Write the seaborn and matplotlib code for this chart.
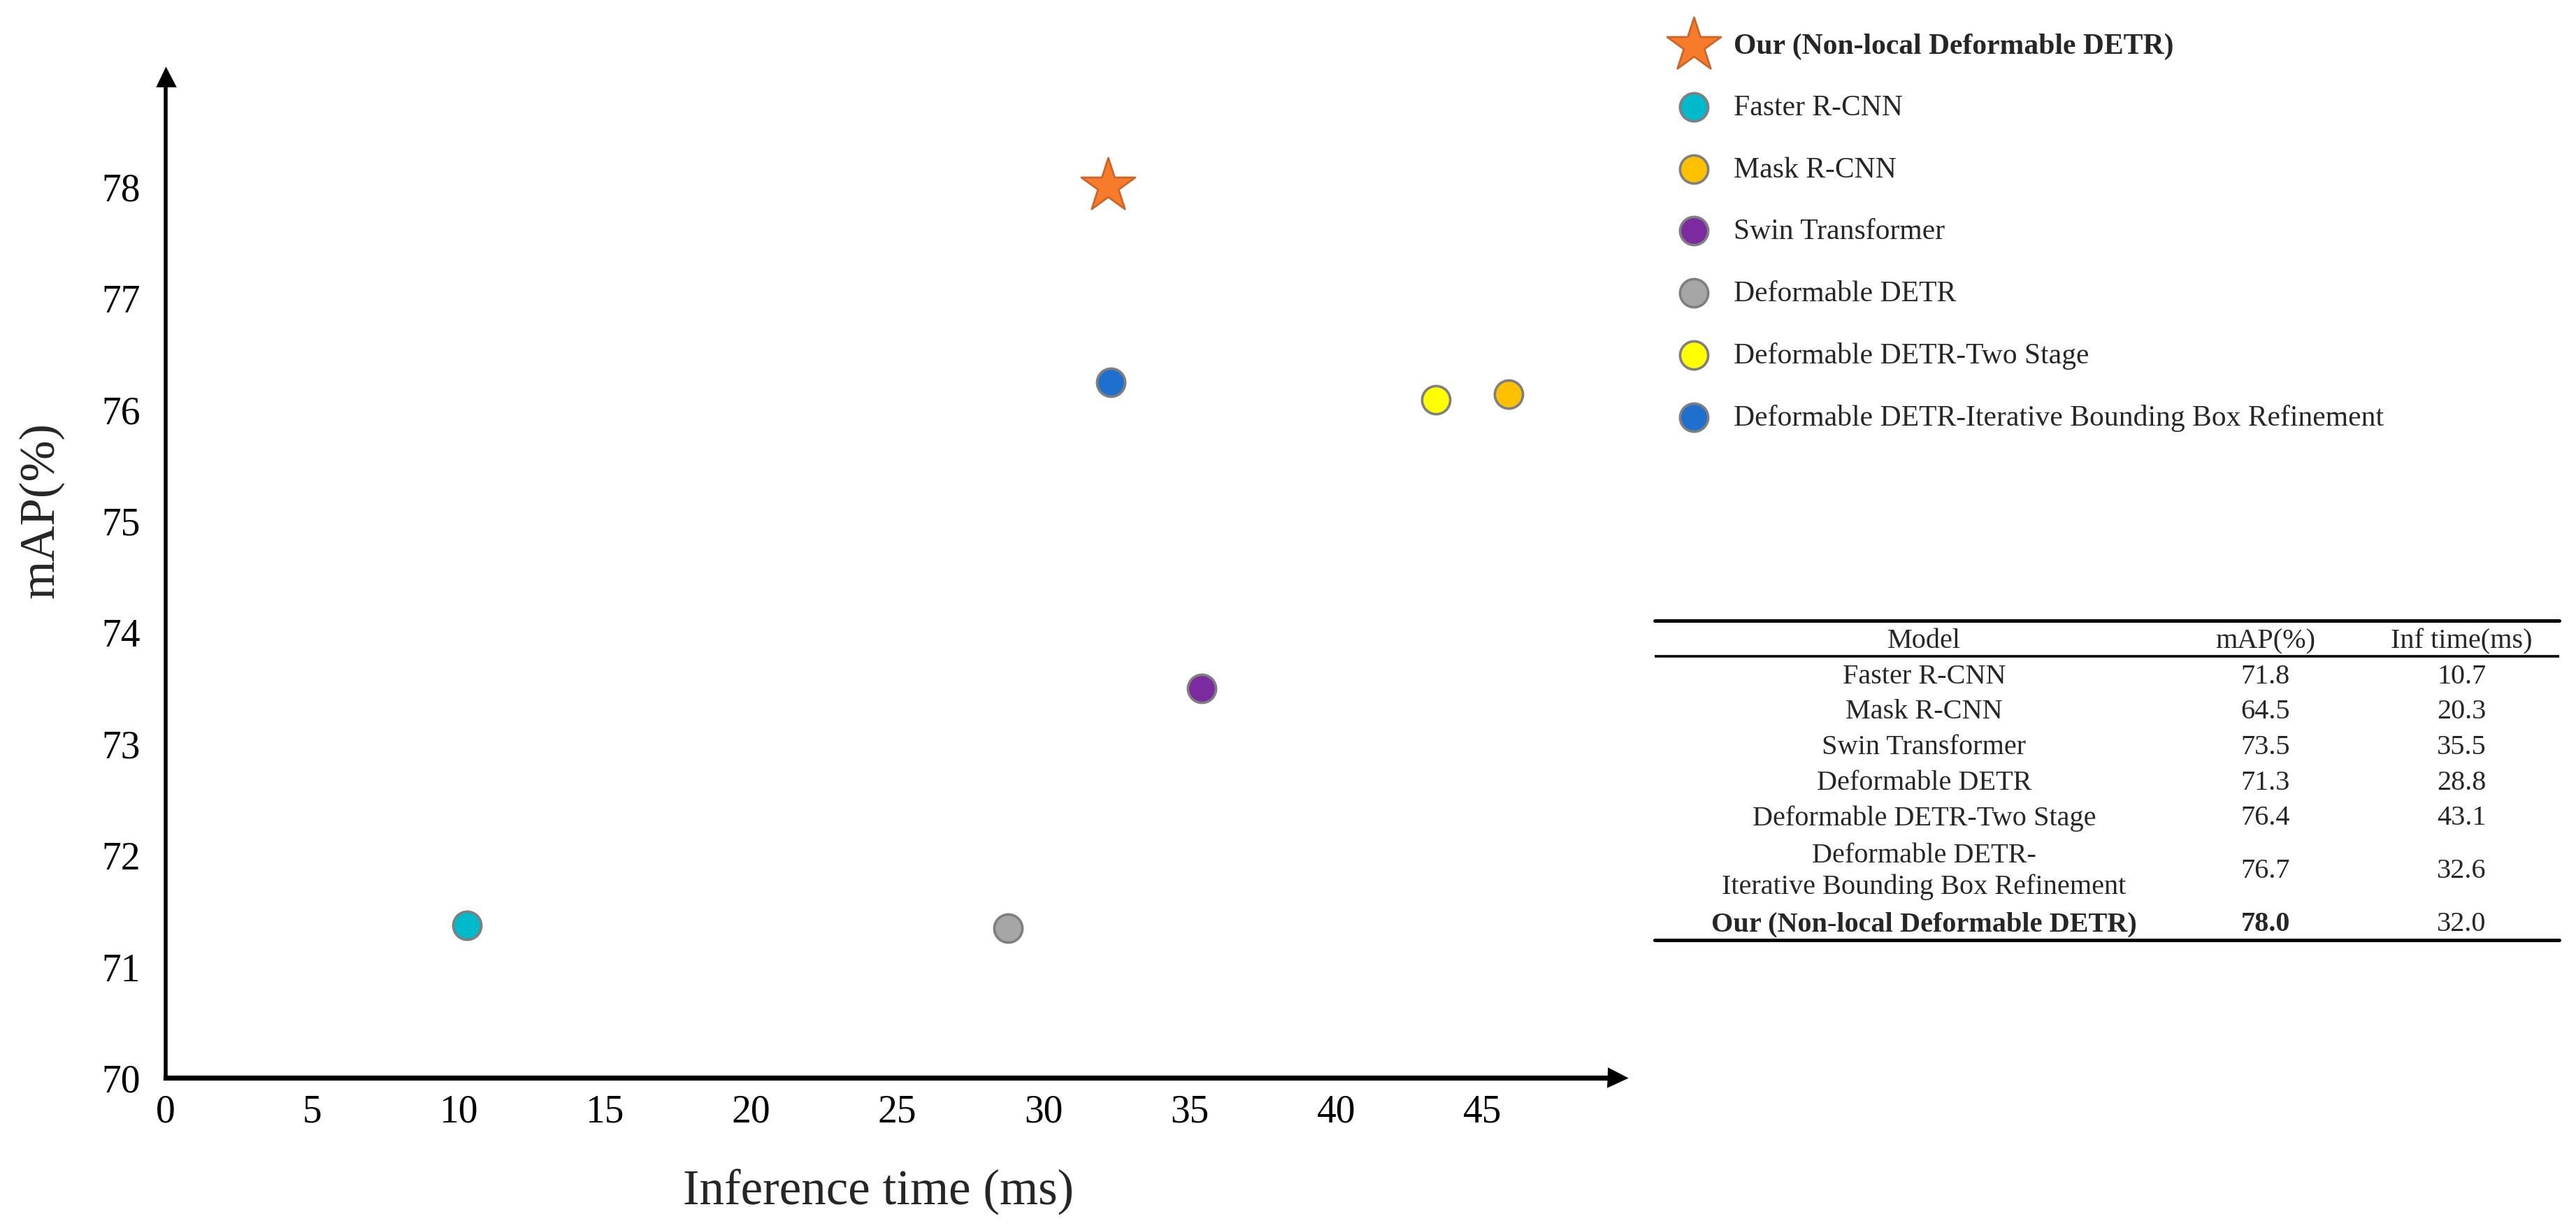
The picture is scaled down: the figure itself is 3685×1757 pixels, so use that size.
import matplotlib
matplotlib.use("Agg")
import matplotlib.pyplot as plt
import seaborn as sns

# scatter / legend order
models = ["Our (Non-local Deformable DETR)", "Faster R-CNN", "Mask R-CNN",
          "Swin Transformer", "Deformable DETR", "Deformable DETR-Two Stage",
          "Deformable DETR-Iterative Bounding Box Refinement"]
# positions as drawn in the plot
inf_time_plot = [32.2, 10.3, 45.9, 35.4, 28.8, 43.4, 32.3]
map_plot = [78.0, 71.37, 76.13, 73.49, 71.34, 76.08, 76.24]
colors = ["#F67C2C", "#00B9CB", "#FFC000", "#7B2AA0", "#A6A6A6", "#FFFF00", "#1F70CE"]

# table content
table_header = ["Model", "mAP(%)", "Inf time(ms)"]
table_models = ["Faster R-CNN", "Mask R-CNN", "Swin Transformer", "Deformable DETR",
                "Deformable DETR-Two Stage",
                "Deformable DETR-\nIterative Bounding Box Refinement",
                "Our (Non-local Deformable DETR)"]
table_map = [71.8, 64.5, 73.5, 71.3, 76.4, 76.7, 78.0]
table_inf = [10.7, 20.3, 35.5, 28.8, 43.1, 32.6, 32.0]

x_ticks = [0, 5, 10, 15, 20, 25, 30, 35, 40, 45]
y_ticks = [70, 71, 72, 73, 74, 75, 76, 77, 78]


if __name__ == '__main__':
    sns.set_theme(style="white")
    plt.rcParams['font.family'] = ['Liberation Serif', 'DejaVu Serif']

    fig = plt.figure(figsize=(18.425, 8.79), dpi=200)
    ax = fig.add_axes([0.0643, 0.1223, 0.5634, 0.8146])

    for i, name in enumerate(models):
        star = i == 0
        sns.scatterplot(x=[inf_time_plot[i]], y=[map_plot[i]], ax=ax,
                        color=colors[i], marker="*" if star else "o",
                        s=850 if star else 210,
                        edgecolor="#CF6428" if star else "#7F7F7F",
                        linewidth=1.0 if star else 1.3,
                        label=name, legend=False, zorder=3, clip_on=False)

    ax.set_xlim(0, 49.6)
    ax.set_ylim(70, 78.98)
    ax.set_xticks(x_ticks)
    ax.set_yticks(y_ticks)
    ax.tick_params(axis='both', direction='in', length=21.6, colors='black',
                   labelsize=20)
    ax.tick_params(axis='x', width=1.6, pad=8)
    ax.tick_params(axis='y', width=2.0, pad=13)

    for side in ['top', 'right']:
        ax.spines[side].set_visible(False)
    ax.spines['left'].set_linewidth(2.0)
    ax.spines['bottom'].set_linewidth(2.6)
    ax.spines['left'].set_color('black')
    ax.spines['bottom'].set_color('black')
    # axis arrows
    ax.plot(0, 1, "^", color="black", markersize=9, transform=ax.transAxes, clip_on=False)
    ax.plot(1, 0, ">", color="black", markersize=9, transform=ax.transAxes, clip_on=False)

    ax.set_xlabel("Inference time (ms)", fontsize=25.5)
    ax.set_ylabel("mAP(%)", fontsize=25.5)
    ax.xaxis.set_label_coords(0.491, -0.091)
    ax.yaxis.set_label_coords(-0.070, 0.568)

    leg = ax.legend(loc="upper left", bbox_to_anchor=(0.652, 0.973),
                    bbox_transform=fig.transFigure, frameon=False, fontsize=15,
                    handlelength=1.0, handletextpad=0.85, labelspacing=1.2,
                    borderpad=0, borderaxespad=0, scatterpoints=1)
    leg.get_texts()[0].set_fontweight('bold')

    # table on the right
    tab = fig.add_axes([0.6423, 0.2344, 0.3512, 0.26])
    tab.set_xlim(0, 1)
    tab.set_ylim(8.46, -0.57)
    tab.axis('off')
    col_x = [0.298, 0.675, 0.892]
    row_y = [1, 2, 3, 4, 5, 6.5, 8]
    for cx, h in zip(col_x, table_header):
        tab.text(cx, 0, h, ha='center', va='center', fontsize=14.5)
    for i, name in enumerate(table_models):
        last = i == len(table_models) - 1
        w = 'bold' if last else 'normal'
        tab.text(col_x[0], row_y[i], name, ha='center', va='center',
                 fontsize=14.5, fontweight=w, linespacing=1.25)
        tab.text(col_x[1], row_y[i], f"{table_map[i]:.1f}", ha='center',
                 va='center', fontsize=14.5, fontweight=w)
        tab.text(col_x[2], row_y[i], f"{table_inf[i]:.1f}", ha='center',
                 va='center', fontsize=14.5)
    tab.axhline(-0.57, color='black', lw=1.8, clip_on=False)
    tab.axhline(0.435, color='black', lw=1.3)
    tab.axhline(8.46, color='black', lw=1.8, clip_on=False)

    plt.savefig("out.png", dpi=200)
